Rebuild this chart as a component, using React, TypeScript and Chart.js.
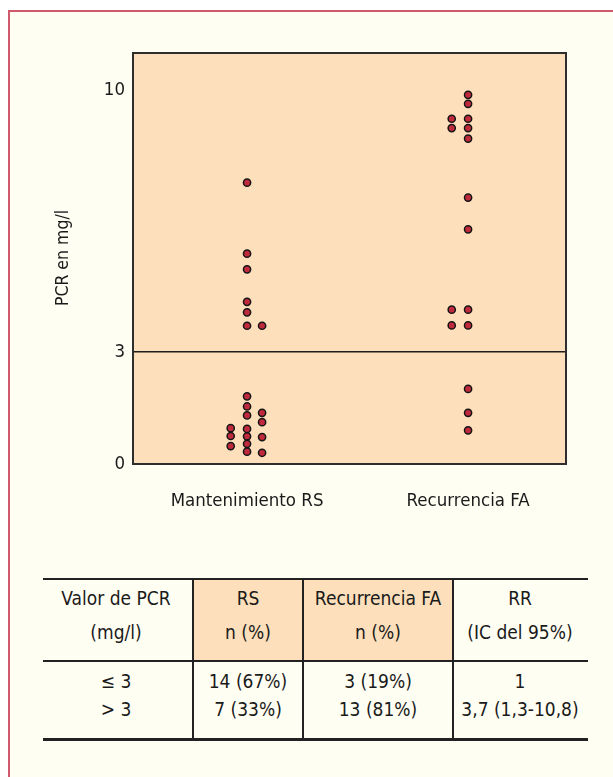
import React, { useEffect, useRef } from "react";
import { Chart, registerables } from "chart.js";

Chart.register(...registerables);

// ---- data ----
const categories = ["Mantenimiento RS", "Recurrencia FA"];
const yTickValues = [0, 3, 10];
const threshold = 3;
const yTitle = "PCR en mg/l";

// Mantenimiento RS (21 patients)
const rsCenter = [7.53, 5.63, 5.21, 4.34, 4.06, 3.7, 1.81, 1.54, 1.3, 0.94, 0.74, 0.54, 0.33];
const rsRight = [3.7, 1.37, 1.12, 0.72, 0.3];
const rsLeft = [0.96, 0.75, 0.48];
// Recurrencia FA (16 patients)
const faCenter = [9.88, 9.64, 9.24, 8.99, 8.71, 7.13, 6.28, 4.13, 3.71, 2.01, 1.37, 0.9];
const faLeft = [9.24, 8.99, 4.13, 3.71];

const tableHeader1 = ["Valor de PCR", "RS", "Recurrencia FA", "RR"];
const tableHeader2 = ["(mg/l)", "n (%)", "n (%)", "(IC del 95%)"];
const tableRow1 = ["\u2264 3", "14 (67%)", "3 (19%)", "1"];
const tableRow2 = ["> 3", "7 (33%)", "13 (81%)", "3,7 (1,3-10,8)"];

// ---- styles ----
const FONT = '"DejaVu Sans Condensed", "Liberation Sans", sans-serif';
const FS_TICK = 18.5;
const FS_TITLE = 17.5;
const FS_TABLE = 19;
const TEXT = "#1a1a1a";
const PEACH = "#fddfbb";
const CREAM = "#fffef3";
const FRAME = "#cf5a6e";
const COL_LEFT = -0.074;
const COL_RIGHT = 0.068;

function buildPoints() {
  const pts: { x: number; y: number }[] = [];
  rsCenter.forEach((y) => pts.push({ x: 1, y }));
  rsRight.forEach((y) => pts.push({ x: 1 + COL_RIGHT, y }));
  rsLeft.forEach((y) => pts.push({ x: 1 + COL_LEFT, y }));
  faCenter.forEach((y) => pts.push({ x: 2, y }));
  faLeft.forEach((y) => pts.push({ x: 2 + COL_LEFT, y }));
  return pts;
}

const plotDeco = {
  id: "plotDeco",
  beforeDraw(chart: any) {
    const { ctx, chartArea: a } = chart;
    ctx.save();
    ctx.fillStyle = PEACH;
    ctx.fillRect(a.left, a.top, a.right - a.left, a.bottom - a.top);
    ctx.restore();
  },
  afterDraw(chart: any) {
    const { ctx, chartArea: a } = chart;
    ctx.save();
    ctx.strokeStyle = "#2e2e2e";
    ctx.lineWidth = 2;
    ctx.strokeRect(a.left, a.top, a.right - a.left, a.bottom - a.top);
    ctx.translate(63, 258);
    ctx.rotate(-Math.PI / 2);
    ctx.fillStyle = TEXT;
    ctx.font = `${FS_TITLE}px ${FONT}`;
    ctx.textAlign = "center";
    ctx.textBaseline = "middle";
    ctx.fillText(yTitle, 0, 0);
    ctx.restore();
  },
};

export default function App() {
  const ref = useRef<HTMLCanvasElement>(null);

  useEffect(() => {
    document.body.style.overflow = "hidden";
    if (!ref.current) return;
    const chart = new Chart(ref.current, {
      type: "scatter",
      data: {
        datasets: [
          {
            data: buildPoints(),
            backgroundColor: "#bf2a3c",
            borderColor: "#151515",
            borderWidth: 1.5,
            pointRadius: 3.6,
            pointHoverRadius: 3.6,
          },
        ],
      },
      options: {
        animation: false,
        responsive: false,
        devicePixelRatio: 1,
        layout: { padding: { top: 53, right: 47, left: 0, bottom: 0 } },
        plugins: { legend: { display: false }, tooltip: { enabled: false } },
        scales: {
          x: {
            type: "linear",
            min: 0.484,
            max: 2.443,
            afterBuildTicks: (s: any) => {
              s.ticks = categories.map((_, i) => ({ value: i + 1 }));
            },
            afterFit: (s: any) => {
              s.height = 96;
            },
            ticks: {
              callback: (v: any) => categories[Math.round(Number(v)) - 1] ?? "",
              font: { family: FONT, size: FS_TICK },
              color: TEXT,
              padding: 26,
              maxRotation: 0,
              autoSkip: false,
            },
            grid: { display: false, drawTicks: false },
            border: { display: false },
          },
          y: {
            type: "linear",
            min: 0,
            max: 11,
            afterBuildTicks: (s: any) => {
              s.ticks = yTickValues.map((v) => ({ value: v }));
            },
            afterFit: (s: any) => {
              s.width = 133;
            },
            ticks: {
              callback: (v: any) => String(v),
              font: { family: FONT, size: FS_TICK },
              color: TEXT,
              padding: 8,
              autoSkip: false,
            },
            grid: {
              drawTicks: false,
              color: (c: any) => (c.tick && c.tick.value === threshold ? "#1e1e1e" : "rgba(0,0,0,0)"),
              lineWidth: 1.5,
            },
            border: { display: false },
          },
        },
      },
      plugins: [plotDeco],
    });
    return () => chart.destroy();
  }, []);

  const colCenters = [116, 248, 378, 520];
  const cell = (text: string, cx: number, cy: number, key: string) => (
    <div
      key={key}
      style={{
        position: "absolute",
        left: cx - 80,
        width: 160,
        top: cy - 14,
        height: 28,
        lineHeight: "28px",
        textAlign: "center",
        font: `${FS_TABLE}px ${FONT}`,
        color: TEXT,
        whiteSpace: "nowrap",
      }}
    >
      {text}
    </div>
  );
  const line = (l: number, t: number, w: number, h: number, key: string) => (
    <div key={key} style={{ position: "absolute", left: l, top: t, width: w, height: h, background: "#222" }} />
  );

  return (
    <div>
      <div
        style={{
          position: "absolute",
          left: 8,
          top: 10,
          width: 613 - 8 - 2,
          height: 777 - 10 - 2,
          background: CREAM,
          borderTop: `2px solid ${FRAME}`,
          borderLeft: `2px solid ${FRAME}`,
        }}
      />
      <canvas
        ref={ref}
        width={613}
        height={560}
        style={{ position: "absolute", left: 0, top: 0, width: 613, height: 560 }}
      />
      <div style={{ position: "absolute", left: 193, top: 580, width: 260, height: 80, background: PEACH }} />
      {line(43, 578, 545, 2, "top")}
      {line(43, 660, 545, 2, "mid")}
      {line(43, 738, 545, 3, "bot")}
      {line(192, 580, 2, 158, "v1")}
      {line(302, 580, 2, 158, "v2")}
      {line(452, 580, 2, 158, "v3")}
      {tableHeader1.map((t, i) => cell(t, colCenters[i], 601, "h1" + i))}
      {tableHeader2.map((t, i) => cell(t, colCenters[i], 635, "h2" + i))}
      {tableRow1.map((t, i) => cell(t, colCenters[i], 684, "r1" + i))}
      {tableRow2.map((t, i) => cell(t, colCenters[i], 712, "r2" + i))}
    </div>
  );
}
